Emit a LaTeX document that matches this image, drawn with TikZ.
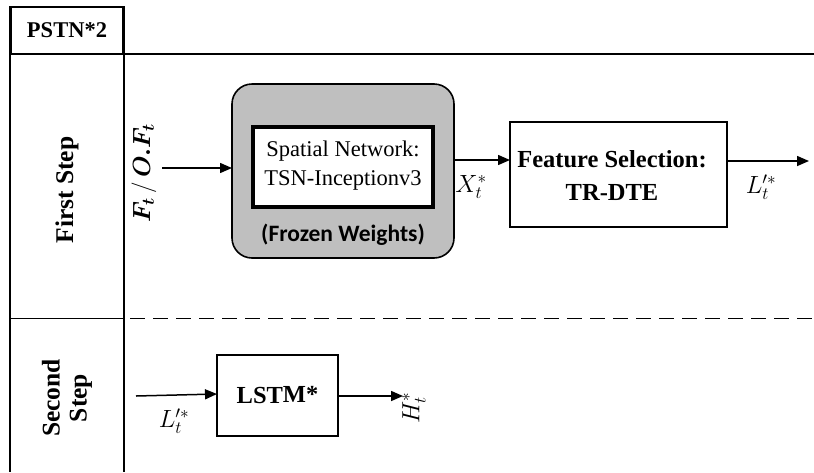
\documentclass[tikz,border=0pt]{standalone}
\usepackage{amsmath}
\usepackage{fontspec}
\setmainfont{Liberation Serif}
\newfontfamily\calib{Carlito}
\usetikzlibrary{arrows.meta}
\begin{document}
\begin{tikzpicture}[x=1pt,y=-1pt,
  txt/.style={font=\fontsize{22.5}{26}\selectfont, inner sep=0pt, align=center, rotate=0.01},
  btxt/.style={font=\fontsize{24.5}{33}\selectfont\bfseries, inner sep=0pt, align=center, rotate=0.01},
  mlab/.style={font=\fontsize{24}{28}\selectfont, inner sep=0pt},
  boxline/.style={draw=black, line width=1.6pt},
  arr/.style={line width=1.5pt, -{Triangle[length=12pt,width=10pt]}},
  tbl/.style={line width=1.8pt}]
\useasboundingbox (0,0) rectangle (814,472);
% title box
\node[draw, line width=2.6pt, minimum width=113pt, minimum height=47pt, inner sep=0pt] (title) at (67,30.5) {};
\node[btxt, font=\fontsize{22.5}{26}\selectfont\bfseries] (titletext) at (67,30.5) {PSTN*2};
% table frame
\draw[line width=2.6pt] (123.5,54) -- (814,54);
\draw[tbl] (10,55) -- (10,472);
\draw[tbl] (124,55) -- (124,472);
\draw[tbl] (10,318.5) -- (124,318.5);
\draw[line width=1.7pt, dash pattern=on 15pt off 8pt] (130,318.5) -- (814,318.5);
% row labels
\node[btxt, rotate=90, font=\fontsize{25.5}{28}\selectfont\bfseries] (first) at (67,190) {First Step};
\node[btxt, rotate=90, font=\fontsize{25.5}{27}\selectfont\bfseries] (second) at (67,398) {Second\\Step};
% first step
\node[mlab, rotate=90] (inlab) at (144,173) {$\boldsymbol{F_t} \,/\, \boldsymbol{O.F_t}$};
\node[draw, line width=1.6pt, fill=black!25, rounded corners=20pt,
  minimum width=222pt, minimum height=174pt] (frozen) at (343,171) {};
\node[draw, line width=3.6pt, fill=white, minimum width=180pt, minimum height=80pt,
  inner sep=0pt] (spatial) at (343,167) {};
\node[txt] (sptext) at (343,166) {Spatial Network:\\[3pt]TSN-Inceptionv3};
\node[inner sep=0pt, font=\fontsize{23.5}{27}\selectfont\calib\bfseries] (fw) at (343,235) {(Frozen Weights)};
\coordinate (instart) at (162,168);
\coordinate (inend) at (232,168);
\draw[arr] (instart) -- (inend);
\node[boxline, minimum width=217pt, minimum height=105pt] (fs) at (618.5,174.5) {};
\node[btxt] (fstext) at (612,176) {Feature Selection:\\TR-DTE};
\coordinate (m1) at (454,160);
\coordinate (m2) at (510,160);
\draw[arr] (m1) -- (m2);
\node[mlab] (xlab) at (471,187) {$X_t^*$};
\coordinate (o1) at (727,161);
\coordinate (outend) at (809,161);
\draw[arr] (o1) -- (outend);
\node[mlab] (llab1) at (761,187) {$L_t^{\prime *}$};
% second step
\node[boxline, minimum width=121pt, minimum height=81pt] (lstm) at (277.5,395.5) {};
\node[btxt] (lstmtext) at (277.5,395) {LSTM*};
\coordinate (lin) at (136,396);
\coordinate (lin2) at (217,394);
\draw[arr] (lin) -- (lin2);
\node[mlab] (llab2) at (174,421) {$L_t^{\prime *}$};
\coordinate (lo1) at (338,396);
\coordinate (lout) at (403,396);
\draw[arr] (lo1) -- (lout);
\node[mlab, rotate=90] (hlab) at (414,408) {$H_t^*$};
\end{tikzpicture}
\end{document}
